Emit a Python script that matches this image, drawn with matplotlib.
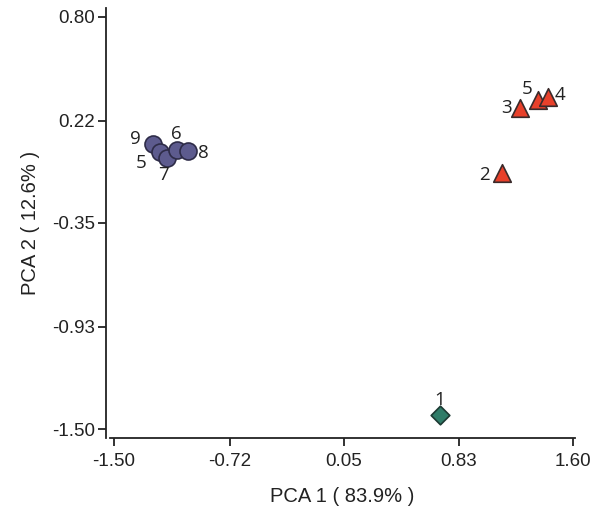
import matplotlib
matplotlib.use("Agg")
import matplotlib.pyplot as plt

plt.rcParams['font.family'] = ['Liberation Sans', 'DejaVu Sans']

# Data
circle_labels = ["9", "5", "7", "6", "8"]
circle_x = [-1.239, -1.189, -1.144, -1.077, -0.998]
circle_y = [0.091, 0.048, 0.013, 0.057, 0.052]

tri_labels = ["2", "3", "5", "4"]
tri_x = [1.119, 1.242, 1.362, 1.431]
tri_y = [-0.071, 0.292, 0.337, 0.355]

dia_labels = ["1"]
dia_x = [0.702]
dia_y = [-1.422]

xticks = [-1.50, -0.72, 0.05, 0.83, 1.60]
yticks = [-1.50, -0.93, -0.35, 0.22, 0.80]

circle_off = {"9": (-17, 5), "5": (-19, -11), "7": (-3, -17), "6": (0, 16), "8": (15, -2)}
tri_off = {"2": (-17, -2), "3": (-14, 0), "5": (-11, 11), "4": (12, 2)}
dia_off = {"1": (0, 15)}

fig = plt.figure(figsize=(5.96, 5.08), dpi=100)
ax = fig.add_axes([0.1846, 0.1378, 0.7802, 0.8465])

ax.scatter(circle_x, circle_y, s=150, marker='o', facecolor='#5d5b8e',
           edgecolor='#2e2c48', linewidth=1.2, zorder=3)
ax.scatter(tri_x, tri_y, s=160, marker='^', facecolor='#e8402a',
           edgecolor='#3a2a2a', linewidth=1.2, zorder=3)
ax.scatter(dia_x, dia_y, s=90, marker='D', facecolor='#2f7c68',
           edgecolor='#1d3a33', linewidth=1.2, zorder=3)

def lab(xs, ys, labels, offs):
    for x, y, t in zip(xs, ys, labels):
        ax.annotate(t, (x, y), xytext=offs[t], textcoords='offset pixels',
                    ha='center', va='center', fontsize=13.5, color='#222222', zorder=4,
                    family=['Open Sans', 'DejaVu Sans'])

lab(circle_x, circle_y, circle_labels, circle_off)
lab(tri_x, tri_y, tri_labels, tri_off)
lab(dia_x, dia_y, dia_labels, dia_off)

ax.set_xlim(-1.527, 1.6135)
ax.set_ylim(-1.55, 0.85)
ax.set_xticks(xticks)
ax.set_xticklabels([f"{v:.2f}" for v in xticks])
ax.set_yticks(yticks)
ax.set_yticklabels([f"{v:.2f}" for v in yticks])

for s in ['top', 'right']:
    ax.spines[s].set_visible(False)
ax.spines['left'].set_position(('outward', 3))
for s in ['left', 'bottom']:
    ax.spines[s].set_linewidth(1.3)
    ax.spines[s].set_color('#222222')
ax.tick_params(direction='out', length=6, width=1.3, labelsize=13.5, colors='#222222', pad=1.5)
ax.tick_params(axis='x', pad=5)

ax.set_xlabel("PCA 1 ( 83.9% )", fontsize=14.5, color='#222222', labelpad=12)
ax.set_ylabel("PCA 2 ( 12.6% )", fontsize=14.5, color='#222222', labelpad=9)

fig.savefig("out.png", dpi=100)
